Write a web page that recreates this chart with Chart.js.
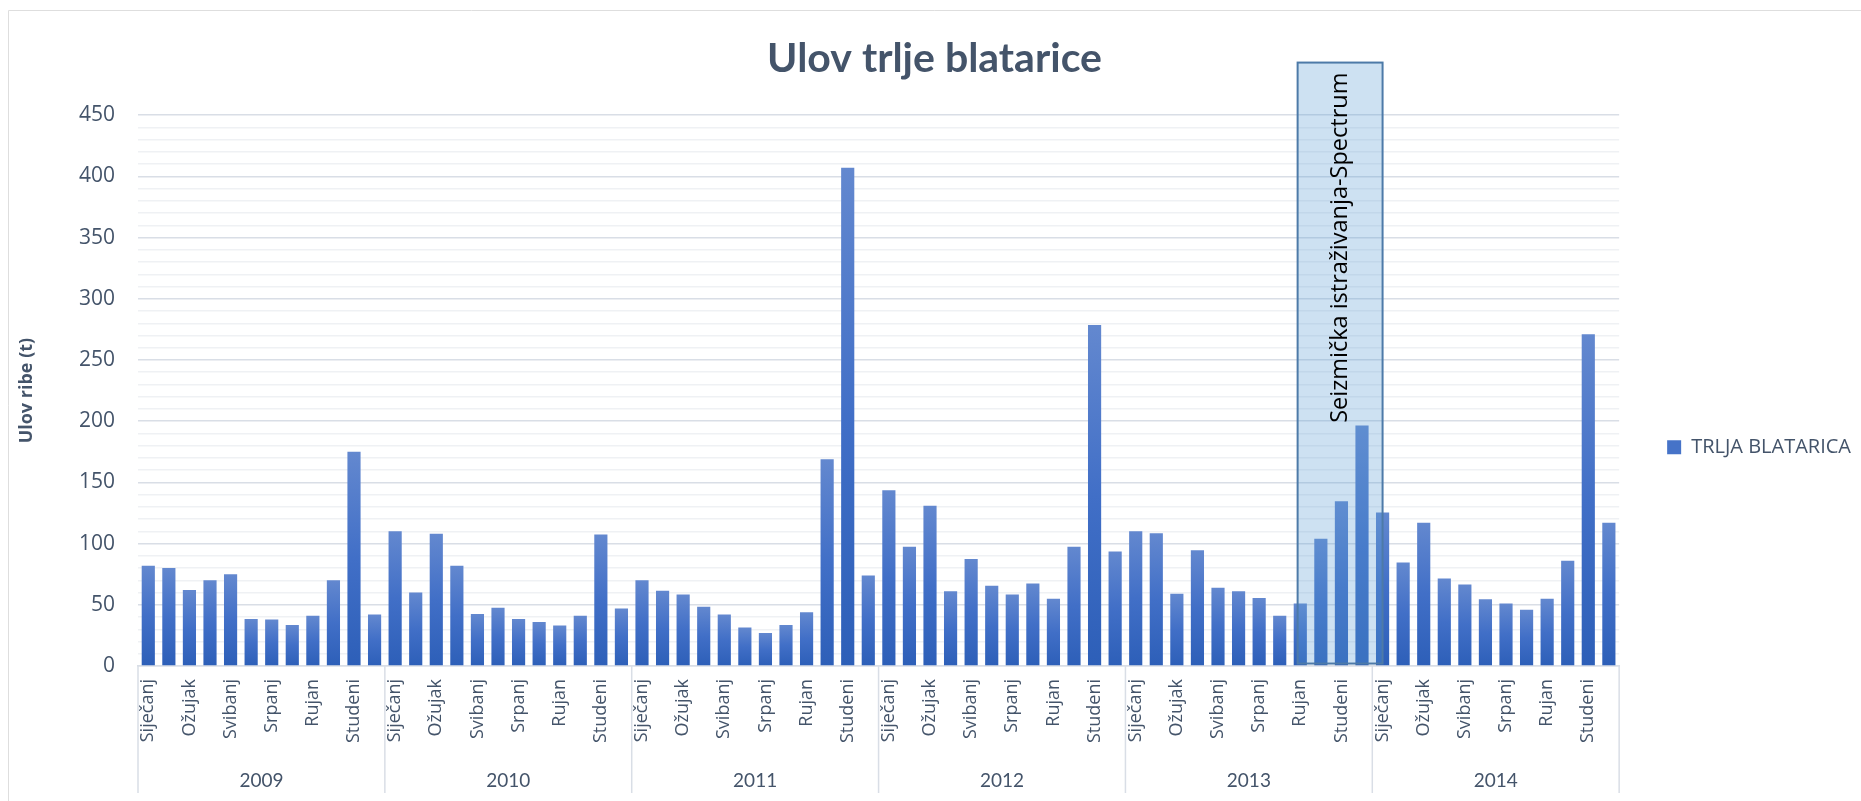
<!DOCTYPE html>
<html lang="hr">
<head>
  <meta charset="UTF-8">
  <title>Ulov trlje blatarice</title>
  <script src="https://cdn.jsdelivr.net/npm/chart.js"></script>
  <style>
    html, body { margin: 0; padding: 0; background: #fff; }
    canvas { display: block; }
  </style>
</head>
<body>
  <canvas id="ulovChart" width="1861" height="801"></canvas>

  <script>
    // Mjeseci i godine (dvorazinska os x)
    const months = ['Siječanj', 'Veljača', 'Ožujak', 'Travanj', 'Svibanj', 'Lipanj',
                    'Srpanj', 'Kolovoz', 'Rujan', 'Listopad', 'Studeni', 'Prosinac'];
    const years = ['2009', '2010', '2011', '2012', '2013', '2014'];

    // Ulov po mjesecima (t), očitano s grafikona
    const ulov2009 = [82, 80, 62, 70, 75, 38.5, 38, 33.5, 41, 70, 175, 42];
    const ulov2010 = [110, 60, 108, 82, 42.5, 47.5, 38.5, 36, 33, 41, 107.5, 47];
    const ulov2011 = [70, 61.5, 58.5, 48.5, 42, 31.5, 27, 33.5, 44, 169, 407, 74];
    const ulov2012 = [143.5, 97.5, 131, 61, 87.5, 65.5, 58.5, 67.5, 55, 97.5, 278.5, 93.5];
    const ulov2013 = [110, 108.5, 59, 94.5, 64, 61, 55.5, 41, 51, 104, 134.5, 196.5];
    const ulov2014 = [125.5, 84.5, 117, 71.5, 66.5, 54.5, 51, 46, 55, 86, 271, 117];

    const seriesName = 'TRLJA BLATARICA';

    // Oznaka razdoblja seizmičkih istraživanja (indeksi kategorija, vrh u tonama)
    const spectrumText = 'Seizmička istraživanja-Spectrum';
    const spectrumFrom = 55.87;
    const spectrumTo = 60;
    const spectrumTop = 493;

    const labels = years.flatMap(() => months);
    const values = [].concat(ulov2009, ulov2010, ulov2011, ulov2012, ulov2013, ulov2014);

    const textColor = '#44546a';
    const gridMajor = '#d9dee6';
    const gridMinor = '#eff1f4';

    function barFill(context) {
      const chart = context.chart;
      const y = chart.scales.y;
      if (!y || context.raw == null) return '#4472c4';
      const top = y.getPixelForValue(context.raw);
      const bottom = y.getPixelForValue(0);
      if (!isFinite(top) || !isFinite(bottom) || top === bottom) return '#4472c4';
      const g = chart.ctx.createLinearGradient(0, top, 0, bottom);
      g.addColorStop(0, '#6388cf');
      g.addColorStop(0.5, '#416fc7');
      g.addColorStop(1, '#2d5fb8');
      return g;
    }

    const decorations = {
      id: 'decorations',
      beforeDraw(chart) {
        const { ctx, width, height } = chart;
        ctx.save();
        ctx.fillStyle = '#fff';
        ctx.fillRect(0, 0, width, height);
        ctx.strokeStyle = '#dedede';
        ctx.lineWidth = 1;
        ctx.beginPath();
        ctx.moveTo(8.5, height);
        ctx.lineTo(8.5, 10.5);
        ctx.lineTo(width, 10.5);
        ctx.stroke();
        ctx.restore();
      },
      afterDraw(chart) {
        // crte između godina ispod osi
        const { ctx, chartArea } = chart;
        const x = chart.scales.x;
        const x2 = chart.scales.x2;
        ctx.save();
        ctx.strokeStyle = gridMajor;
        ctx.lineWidth = 1.5;
        for (let k = 0; k <= years.length; k++) {
          const px = x.getPixelForValue(k * months.length - 0.5);
          ctx.beginPath();
          ctx.moveTo(px, chartArea.bottom);
          ctx.lineTo(px, x2.bottom);
          ctx.stroke();
        }
        ctx.restore();
      },
      afterDatasetsDraw(chart) {
        const { ctx } = chart;
        const x = chart.scales.x;
        const y = chart.scales.y;
        const left = x.getPixelForValue(spectrumFrom);
        const right = x.getPixelForValue(spectrumTo);
        const top = y.getPixelForValue(spectrumTop);
        const bottom = y.getPixelForValue(2);
        ctx.save();
        ctx.fillStyle = 'rgba(91, 155, 213, 0.3)';
        ctx.fillRect(left, top, right - left, bottom - top);
        ctx.strokeStyle = '#4d7aa8';
        ctx.lineWidth = 2;
        ctx.strokeRect(left, top, right - left, bottom - top);
        ctx.translate((left + right) / 2, top + 10);
        ctx.rotate(-Math.PI / 2);
        ctx.fillStyle = '#000';
        ctx.font = '23.5px "Open Sans"';
        ctx.textAlign = 'right';
        ctx.textBaseline = 'middle';
        ctx.fillText(spectrumText, 0, 0);
        ctx.restore();
      }
    };

    function drawChart() {
      Chart.defaults.font.family = '"Open Sans"';
      Chart.defaults.color = textColor;

      const ctx = document.getElementById('ulovChart').getContext('2d');
      new Chart(ctx, {
        type: 'bar',
        data: {
          labels,
          datasets: [{
            label: seriesName,
            data: values,
            backgroundColor: barFill,
            borderWidth: 0,
            categoryPercentage: 1,
            barPercentage: 0.64,
          }],
        },
        options: {
          responsive: false,
          animation: false,
          layout: { padding: { left: 8, right: 0, top: 0, bottom: 8 } },
          plugins: {
            title: {
              display: true,
              text: 'Ulov trlje blatarice',
              color: textColor,
              font: { family: 'Lato', size: 41, weight: 'bold' },
              padding: { top: 34, bottom: 32 },
            },
            legend: {
              position: 'right',
              // prazan naslov legende samo spušta stavku prema sredini
              title: { display: true, text: ' ', padding: { top: 80, bottom: 0 }, font: { size: 18 } },
              labels: {
                boxWidth: 14,
                boxHeight: 14,
                padding: 10,
                color: textColor,
                font: { size: 20 },
                generateLabels(chart) {
                  const items = Chart.defaults.plugins.legend.labels.generateLabels(chart);
                  items.forEach(it => { it.fillStyle = '#4673c8'; it.lineWidth = 0; });
                  return items;
                },
              },
            },
            tooltip: { enabled: false },
          },
          scales: {
            x: {
              offset: true,
              afterFit(s) { s.height = 77; },
              grid: { display: false, drawTicks: false },
              border: { display: true, color: gridMajor, width: 1.5 },
              ticks: {
                autoSkip: false,
                maxRotation: 90,
                minRotation: 90,
                padding: 13,
                color: textColor,
                font: { size: 18 },
                callback(v, i) { return i % 2 === 0 ? this.getLabelForValue(v) : ''; },
              },
            },
            x2: {
              type: 'category',
              labels: years,
              position: 'bottom',
              offset: true,
              weight: 1,
              afterFit(s) { s.height = 50; },
              grid: { display: false, drawTicks: false },
              border: { display: false },
              ticks: {
                autoSkip: false,
                maxRotation: 0,
                padding: 26,
                color: textColor,
                font: { family: 'Lato', size: 19 },
              },
            },
            y: {
              min: 0,
              max: 450,
              afterFit(s) { s.width = 130; },
              border: { display: false },
              grid: {
                drawTicks: false,
                lineWidth: 1.5,
                color: c => (c.tick && c.tick.value % 50 === 0) ? gridMajor : gridMinor,
              },
              ticks: {
                stepSize: 10,
                autoSkip: false,
                padding: 23,
                color: textColor,
                font: { size: 21 },
                callback: v => (v % 50 === 0 ? v : ''),
              },
              title: {
                display: true,
                text: 'Ulov ribe (t)',
                color: textColor,
                font: { size: 18, weight: 'bold' },
                padding: { top: 8, bottom: 0 },
              },
            },
            yGap: {
              position: 'right',
              afterFit(s) { s.width = 38; },
              grid: { display: false },
              border: { display: false },
              ticks: { display: false },
            },
          },
        },
        plugins: [decorations],
      });
    }

    Promise.all([
      document.fonts.load('bold 41px Lato'),
      document.fonts.load('19px Lato'),
      document.fonts.load('20px "Open Sans"'),
      document.fonts.load('bold 18px "Open Sans"'),
    ]).then(drawChart, drawChart);
  </script>
</body>
</html>
